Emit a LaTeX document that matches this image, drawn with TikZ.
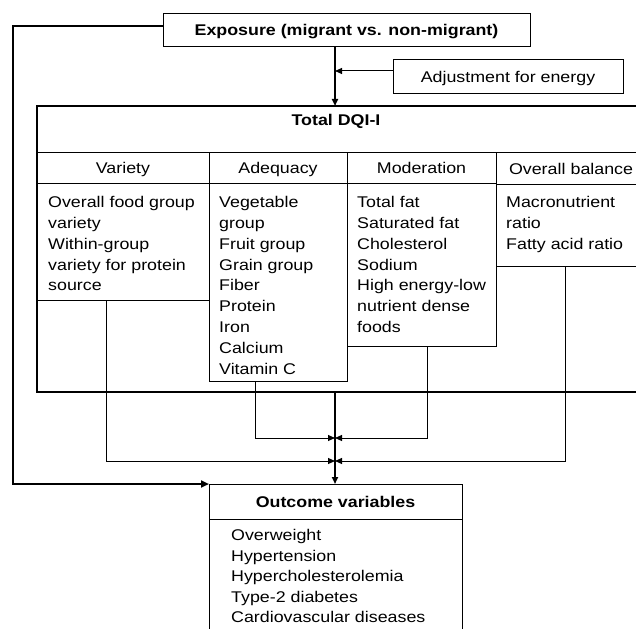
\documentclass[tikz,border=0pt]{standalone}
\usepackage{fontspec}
\setmainfont{Liberation Sans}[FakeStretch=1.15]
\usetikzlibrary{arrows.meta}
\begin{document}
\begin{tikzpicture}[x=1pt,y=-1pt,
  font=\fontsize{15.5}{20.8}\selectfont,
  box/.style={draw, line width=1pt, inner sep=0pt, outer sep=0pt},
  cell/.style={box, anchor=north west, text height=11pt, text depth=0pt},
  bigbox/.style={draw, line width=2.4pt, inner sep=0pt, outer sep=0pt},
  bold/.style={font=\fontsize{15.5}{20.8}\selectfont\bfseries},
  list/.style={inner sep=0pt, align=left, anchor=north west},
  tip/.style={-{Triangle[length=7pt,width=6pt]}},
  conn/.style={line width=1pt, tip},
  mainconn/.style={line width=1.7pt, tip},
  loopconn/.style={line width=2.6pt, -{Triangle[length=8pt,width=7pt]}}
]
\useasboundingbox (0,0) rectangle (636,628);
\clip (0,0) rectangle (636,628);

% top boxes
\node[box, bold, minimum width=367pt, minimum height=33pt, text height=11pt, text depth=0pt] (exp) at (346.5,30.5) {Exposure (migrant vs. non-migrant)};
\node[box, minimum width=230pt, minimum height=34pt, text height=11pt, text depth=0pt] (adj) at (508,77) {Adjustment for energy};

% DQI-I block
\node[bigbox, anchor=north west, minimum width=663pt, minimum height=286pt] (dqi) at (37,106) {};
\node[bold, inner sep=0pt, text height=11pt, text depth=0pt] (dqit) at (336,120) {Total DQI-I};

% header cells
\node[cell, minimum width=172pt, minimum height=31pt] (varh) at (37,153) {Variety};
\node[cell, minimum width=138pt, minimum height=31pt] (adqh) at (209,153) {Adequacy};
\node[cell, minimum width=149pt, minimum height=31pt] (modh) at (347,153) {Moderation};
\node[cell, minimum height=32pt, text width=174pt, inner xsep=13pt, align=left] (balh) at (496,153) {Overall balance};

% content boxes
\node[box, anchor=north west, minimum width=172pt, minimum height=116pt] (varc) at (37,184) {};
\node[box, anchor=north west, minimum width=138pt, minimum height=197pt] (adqc) at (209,184) {};
\node[box, anchor=north west, minimum width=149pt, minimum height=162pt] (modc) at (347,184) {};
\node[box, anchor=north west, minimum width=200pt, minimum height=81pt] (balc) at (496,185) {};

\node[list] (vart) at (48,196.2) {Overall food group\\variety\\Within-group\\variety for protein\\source};
\node[list] (adqt) at (219,196.2) {Vegetable\\group\\Fruit group\\Grain group\\Fiber\\Protein\\Iron\\Calcium\\Vitamin C};
\node[list] (modt) at (357,196.2) {Total fat\\Saturated fat\\Cholesterol\\Sodium\\High energy-low\\nutrient dense\\foods};
\node[list] (balt) at (506,196.2) {Macronutrient\\ratio\\Fatty acid ratio};

% outcome
\node[box, bold, anchor=north west, minimum width=253pt, minimum height=35pt, text height=11pt, text depth=0pt] (outh) at (209,484) {Outcome variables};
\node[box, anchor=north west, minimum width=253pt, minimum height=130pt] (outb) at (209,519) {};
\node[list, font=\fontsize{15.5}{20.5}\selectfont] (outt) at (231,529.2) {Overweight\\Hypertension\\Hypercholesterolemia\\Type-2 diabetes\\Cardiovascular diseases};

% junctions on the main vertical line
\coordinate (j1) at (335,71);
\coordinate (j2) at (335,438);
\coordinate (j3) at (335,461);

% connectors
\draw[mainconn] (j1 |- exp.south) -- (j1 |- dqi.north);
\draw[conn] ([yshift=6pt]adj.west) -- (j1);
\draw[loopconn] ([yshift=4.5pt]exp.west) -- ++(-150,0) |- (outh.north west);
\draw[conn] (varc.south west) ++(69,0) |- (j3);
\draw[conn] (balc.south west) ++(69,0) |- (j3);
\draw[conn] (adqc.south west) ++(46,0) |- (j2);
\draw[conn] (modc.south west) ++(80,0) |- (j2);
\draw[mainconn] (j2 |- dqi.south) -- (j2 |- outh.north);
\end{tikzpicture}
\end{document}
